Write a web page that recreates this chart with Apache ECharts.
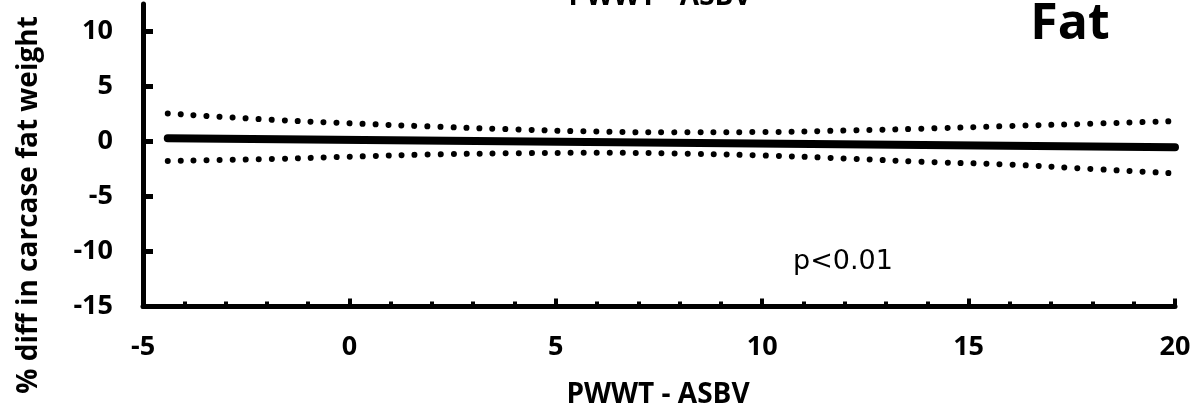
<!DOCTYPE html>
<html>
<head>
<meta charset="utf-8">
<title>% diff in carcase fat weight vs PWWT - ASBV</title>
<script src="https://cdn.jsdelivr.net/npm/echarts@6/dist/echarts.min.js"></script>
<style>
  html, body { margin: 0; padding: 0; background: #fff; }
  #chart { width: 1197px; height: 410px; }
</style>
</head>
<body>
<div id="chart"></div>
<script>
// PWWT - ASBV positions where the fitted line and its bands were read
const xValues = [-4.4, -2, 0, 2, 4, 6, 8, 10, 12, 14, 16, 18, 20];
// 95% band around the fit (upper and lower)
const upperBand = [2.55, 2.0, 1.66, 1.36, 1.1, 0.9, 0.83, 0.86, 1.0, 1.18, 1.41, 1.62, 1.86];
const lowerBand = [-1.77, -1.6, -1.38, -1.18, -1.07, -1.03, -1.1, -1.27, -1.54, -1.86, -2.1, -2.5, -2.9];
// Fitted regression line (end points)
const fitX = [-4.4, 20];
const fitY = [0.3, -0.53];

const xTicks = [-5, 0, 5, 10, 15, 20];
const yTicks = [-15, -10, -5, 0, 5, 10];

const xTitle = 'PWWT - ASBV';
const yTitle = '% diff in carcase fat weight';
const panelLabel = 'Fat';
const pLabel = 'p<0.01';

const pairs = (xs, ys) => xs.map((x, i) => [x, ys[i]]);

const chart = echarts.init(document.getElementById('chart'), null, { renderer: 'canvas' });

const axisFont = { fontFamily: 'Open Sans', fontWeight: 'bold', fontSize: 27, color: '#000' };
const dotted = { color: '#000', width: 6, type: [0.001, 13], cap: 'round' };

chart.setOption({
  backgroundColor: '#fff',
  animation: false,
  grid: { left: 143, right: 22, top: 4, bottom: 103.5 },
  xAxis: {
    type: 'value',
    min: -5, max: 20, interval: 5,
    axisLine: { onZero: false, lineStyle: { color: '#000', width: 5 } },
    axisTick: { inside: true, length: 8, lineStyle: { color: '#000', width: 4 } },
    minorTick: { show: true, splitNumber: 5, length: 5, lineStyle: { color: '#000', width: 4 } },
    splitLine: { show: false },
    axisLabel: Object.assign({ margin: 27, customValues: xTicks }, axisFont)
  },
  yAxis: {
    type: 'value',
    min: -15, max: 12.5, interval: 5,
    axisLine: { onZero: false, lineStyle: { color: '#000', width: 5 } },
    axisTick: { inside: true, length: 10, customValues: yTicks, lineStyle: { color: '#000', width: 5 } },
    splitLine: { show: false },
    axisLabel: Object.assign({ margin: 30, customValues: yTicks }, axisFont)
  },
  series: [
    {
      type: 'line', data: pairs(xValues, upperBand), smooth: true,
      showSymbol: false, lineStyle: dotted, z: 2
    },
    {
      type: 'line', data: pairs(xValues, lowerBand), smooth: true,
      showSymbol: false, lineStyle: dotted, z: 2
    },
    {
      type: 'line', data: pairs(fitX, fitY),
      showSymbol: false, lineStyle: { color: '#000', width: 8, cap: 'round' }, z: 3
    }
  ],
  graphic: [
    {
      // x-axis title of the panel above, clipped at the top edge
      type: 'text', x: 660, y: -3,
      style: { text: xTitle, fill: '#000', font: 'bold 28px "Open Sans"', align: 'center', verticalAlign: 'middle' }
    },
    {
      type: 'text', x: 658, y: 395,
      style: { text: xTitle, fill: '#000', font: 'bold 28px "Open Sans"', align: 'center', verticalAlign: 'middle' }
    },
    {
      type: 'text', x: 29, y: 205, rotation: Math.PI / 2,
      style: { text: yTitle, fill: '#000', font: 'bold 28px "Open Sans"', align: 'center', verticalAlign: 'middle' }
    },
    {
      type: 'text', x: 1070, y: 25,
      style: { text: panelLabel, fill: '#000', font: 'bold 50px "Open Sans"', align: 'center', verticalAlign: 'middle' }
    },
    {
      type: 'text', x: 843, y: 262,
      style: { text: pLabel, fill: '#000', font: '27px "DejaVu Sans"', align: 'center', verticalAlign: 'middle' }
    }
  ]
});
</script>
</body>
</html>
